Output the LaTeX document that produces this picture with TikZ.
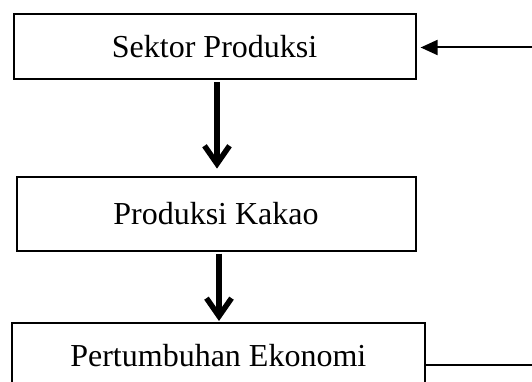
\documentclass[tikz,border=0pt]{standalone}
\usepackage{fontspec}
\setmainfont{Liberation Serif}
\usetikzlibrary{arrows.meta,calc}
\begin{document}
\begin{tikzpicture}[x=1pt,y=1pt,
  boxstyle/.style={draw, line width=2pt, inner sep=0pt, font=\fontsize{32}{38}\selectfont},
  thickarrow/.style={line width=5.5pt, -{Straight Barb[length=18pt,width=25pt,line width=5.5pt]}},
  thinline/.style={line width=2pt}]
\useasboundingbox (0,0) rectangle (532,-382);
\clip (0,0) rectangle (532,-382);
\node[boxstyle, minimum width=402pt, minimum height=65pt] (b1) at (214.6,-47) {Sektor Produksi};
\node[boxstyle, minimum width=399pt, minimum height=74pt] (b2) at (216,-213.6) {Produksi Kakao};
\node[boxstyle, minimum width=413pt, minimum height=66pt, anchor=north] (b3) at (218.3,-322) {Pertumbuhan Ekonomi};
\coordinate (tr) at (532,-47.5);
\coordinate (br) at (532,-365);
\draw[thickarrow, shorten <=2pt, shorten >=7pt] ($(b1.south)+(2.4,0)$) -- ($(b2.north)+(1,0)$);
\draw[thickarrow, shorten <=2pt, shorten >=1pt] ($(b2.south)+(3,0)$) -- ($(b3.north)+(0.7,0)$);
\draw[thinline, -{Triangle[length=17pt,width=15pt]}, shorten >=4pt] (tr) -- (b1.east |- tr);
\draw[thinline] (br -| b3.east) -- (br);
\end{tikzpicture}
\end{document}
